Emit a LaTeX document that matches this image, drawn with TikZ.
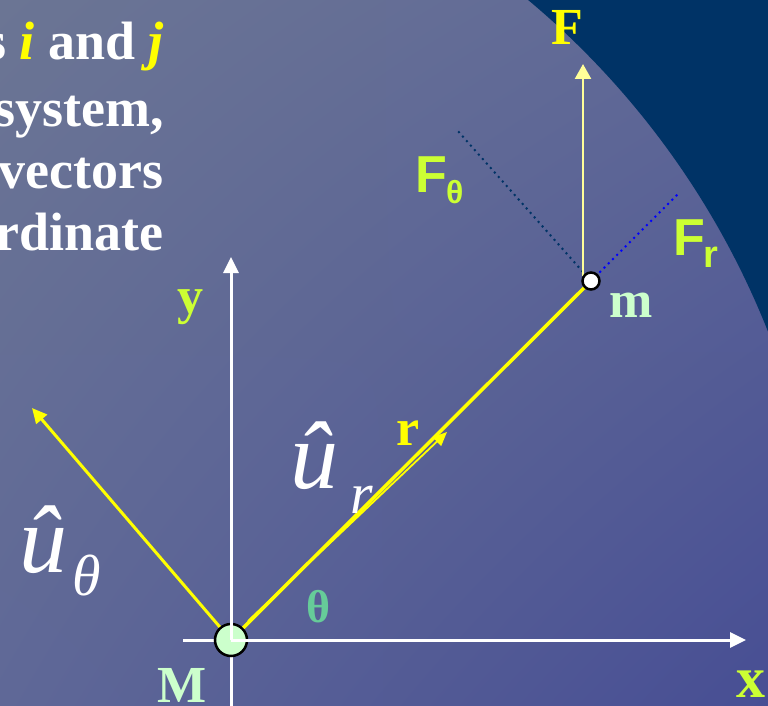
\documentclass[tikz,border=0pt]{standalone}
\usepackage{fontspec}
\setmainfont{Liberation Serif}
\newfontfamily\arialf{Liberation Sans}
\usetikzlibrary{arrows.meta,shadings}
\definecolor{bgTL}{HTML}{6B7594}
\definecolor{bgMID}{HTML}{5F6897}
\definecolor{bgBR}{HTML}{474E94}
\definecolor{navyd}{HTML}{003366}
\definecolor{lblg}{HTML}{CCFF33}
\definecolor{mgreen}{HTML}{CCFFCC}
\definecolor{thgreen}{HTML}{66CC99}
\definecolor{fyel}{HTML}{FFFF99}
\definecolor{uyel}{HTML}{FFFF00}
\tikzset{
  lbl/.style={inner sep=0pt, font=\fontsize{52}{60}\selectfont\bfseries},
  txt/.style={inner sep=0pt, anchor=base east, text=white, font=\fontsize{54}{62}\selectfont\bfseries},
  axis/.style={white, line width=3pt},
  axarrow/.style={axis, -{Triangle[length=16pt,width=15pt]}},
  uvec/.style={uyel, line width=3pt, -{Triangle[length=15pt,width=14pt]}},
  hatu/.style={inner sep=0pt, anchor=base west, text=white, font=\fontsize{96}{100}\selectfont\itshape},
  subs/.style={inner sep=0pt, anchor=base west, text=white, font=\fontsize{58}{60}\selectfont\itshape},
}
\begin{document}
\begin{tikzpicture}[x=1pt,y=-1pt]
\useasboundingbox (0,0) rectangle (768,706);
\clip (0,0) rectangle (768,706);
% background
\shade[upper left=bgTL, upper right=bgMID, lower left=bgMID, lower right=bgBR] (0,0) rectangle (768,706);
\fill[navyd, even odd rule] (-4,637) circle (830pt) (-100,-100) rectangle (900,800);
% text block
\node[txt] (t1) at (164,60) {s \textcolor{uyel}{\itshape i} and \textcolor{uyel}{\itshape j}};
\node[txt] (t2) at (164,127) {system,};
\node[txt] (t3) at (164,188) {vectors};
\node[txt] (t4) at (164,250) {rdinate};
% coordinates
\coordinate (O) at (231,640);
\coordinate (xs) at (183,640);
\coordinate (xe) at (746,640);
\coordinate (ys) at (231,706);
\coordinate (ye) at (231,257);
\coordinate (mc) at (591,281);
\coordinate (ut) at (32,408);
\coordinate (rs) at (248,621);
\coordinate (rt) at (447,432);
\coordinate (Fb) at (583,276);
\coordinate (Ft) at (583,64);
\coordinate (Fth) at (457,130);
\coordinate (Frr) at (679,193);
% negative axis stubs
\draw[axis] (xs) -- (O);
\draw[axis] (ys) -- (O);
% M
\node[circle, fill=mgreen, draw=black, line width=2.5pt, minimum size=32pt, inner sep=0pt] (M) at (O) {};
% positive axes
\draw[axarrow] (O) -- (xe);
\draw[axarrow] (O) -- (ye);
% dotted components
\draw[navyd, line width=2pt, dash pattern=on 2pt off 4pt] (mc) -- (Fth);
\draw[blue, line width=2pt, dash pattern=on 2pt off 4pt] (mc) -- (Frr);
% F arrow
\draw[fyel, line width=2.5pt, -{Triangle[length=15pt,width=16pt]}] (Fb) -- (Ft);
% r line
\draw[uyel, line width=3.5pt] (M) -- (mc);
\draw[uyel, line width=1.8pt, -{Triangle[length=14pt,width=12pt]}] (rs) -- (rt);
% u theta
\draw[uvec] (M) -- (ut);
% m
\node[circle, fill=white, draw=black, line width=2.5pt, minimum size=17pt, inner sep=0pt] (m) at (mc) {};
% labels
\node[lbl, text=lblg, anchor=base west] (ylab) at (177,313) {y};
\node[lbl, text=lblg, anchor=base west, font=\fontsize{58}{60}\selectfont\bfseries] (xlab) at (736,697) {x};
\node[lbl, text=mgreen, anchor=base west] (Mlab) at (157,702) {M};
\node[lbl, text=mgreen, anchor=base west] (mlab) at (609,317) {m};
\node[lbl, text=uyel, anchor=base west] (Flab) at (551,45) {F};
\node[lbl, text=uyel, anchor=base west] (rlab) at (396,445) {r};
\node[lbl, text=thgreen, anchor=base west, font=\fontsize{46}{50}\selectfont\bfseries] (thlab) at (306,622) {θ};
\node[inner sep=0pt, anchor=base west, text=lblg, font=\arialf\fontsize{52}{56}\selectfont\bfseries] (Fthlab) at (415,192) {F};
\node[inner sep=0pt, anchor=base west, text=lblg, font=\arialf\fontsize{32}{34}\selectfont\bfseries] (Fthsub) at (446,203) {θ};
\node[inner sep=0pt, anchor=base west, text=lblg, font=\arialf\fontsize{52}{56}\selectfont\bfseries] (Frlab) at (673,255) {F};
\node[inner sep=0pt, anchor=base west, text=lblg, font=\arialf\fontsize{38}{40}\selectfont\bfseries] (Frsub) at (703,267) {r};
% unit vector labels
\node[hatu] (ur) at (290,488) {û};
\node[subs] (urs) at (350,513) {r};
\node[hatu] (uth) at (19,572) {û};
\node[subs] (uths) at (72,595) {θ};
\end{tikzpicture}
\end{document}
